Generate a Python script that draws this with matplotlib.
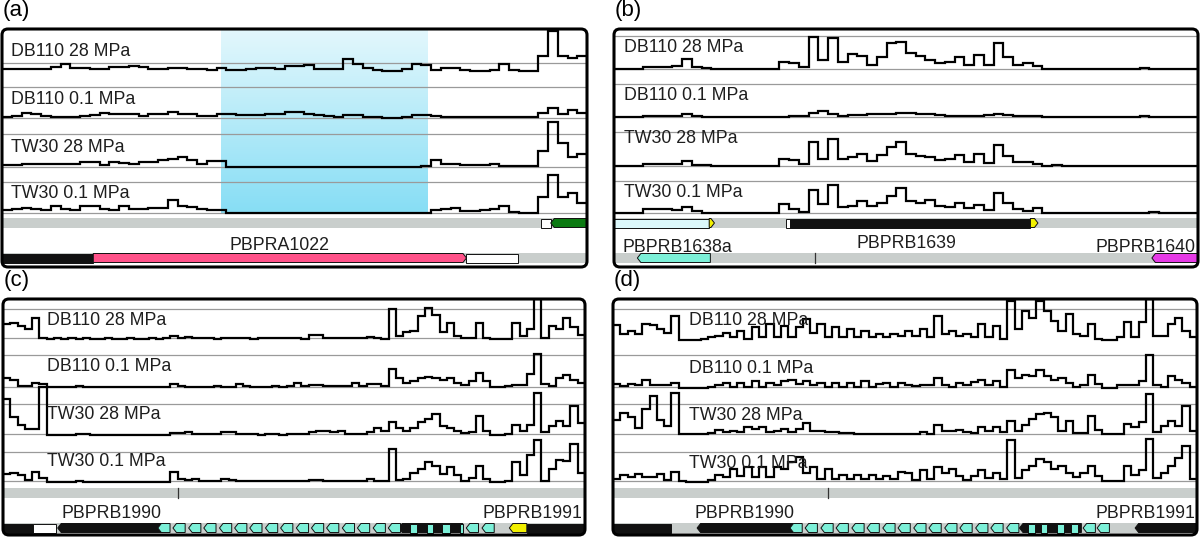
import matplotlib.pyplot as plt
import numpy as np
from matplotlib.patches import FancyBboxPatch, Rectangle, Polygon

plt.rcParams['font.family'] = ['Liberation Sans', 'DejaVu Sans']

W, H = 1200, 537
UNIT = 3.0          # pixels per coverage unit (10 units ~ one track height)

samples = ["DB110 28 MPa", "DB110 0.1 MPa", "TW30 28 MPa", "TW30 0.1 MPa"]

# ---- coverage (arbitrary units, evenly spaced bins) ----
a_db110_28 = [0.8, 0.8, 0.6, 0.8, 0.8, 1.2, 2.2, 1.0, 1.0, 0.6, 0.6, 1.2, 1.3, 1.7, 1.5, 0.6, 0.8, 1.0, 1.0, 0.6,
              0.6, 0.4, 1.1, 0.5, 0.3, 0.6, 1.0, 1.0, 0.8, 1.7, 1.7, 1.9, 0.8, 0.6, 0.8, 3.9, 2.2, 1.0, 0.2, 0.0,
              0.0, 0.6, 2.2, 2.0, 0.5, 1.1, 1.1, 0.2, 0.0, 0.0, 0.5, 2.2, 0.5, 0.0, 0.0, 5.0, 13.3, 5.0, 4.5, 5.0]
a_db110_01 = [0.5, 0.7, 1.7, 1.5, 0.8, 0.5, 0.3, 0.3, 0.7, 1.0, 1.7, 1.5, 1.4, 1.4, 0.6, 1.2, 1.4, 1.9, 1.5, 1.2,
              0.8, 0.6, 1.2, 1.2, 1.1, 1.1, 1.1, 1.2, 1.4, 1.9, 1.9, 1.3, 1.1, 0.7, 0.5, 1.1, 1.0, 0.4, 0.3, 0.0,
              0.0, 0.3, 1.1, 1.1, 0.6, 0.4, 0.3, 0.3, 0.3, 0.3, 0.3, 0.3, 0.3, 0.2, 0.3, 1.7, 3.3, 1.3, 2.8, 1.7]
a_tw30_28 = [0.6, 0.8, 1.1, 1.1, 0.9, 0.9, 0.9, 1.0, 1.7, 1.7, 0.6, 1.7, 1.2, 0.9, 1.7, 1.7, 2.2, 2.8, 3.3, 2.5,
             1.1, 2.0, 2.0, 0, 0, 0, 0, 0, 0, 0, 0, 0, 0, 0, 0, 0, 0, 0, 0, 0,
             0, 0, 0, 0.5, 2.2, 1.1, 1.1, 0.6, 0.6, 0.6, 1.1, 0.3, 0.2, 0.2, 0.3, 5.5, 15, 8.0, 3.3, 4.4]
a_tw30_01 = [0.9, 1.2, 1.7, 1.2, 1.0, 2.2, 1.5, 1.0, 2.4, 2.4, 1.4, 0.9, 2.2, 1.3, 1.3, 1.7, 1.7, 4.4, 2.2, 2.0,
             1.3, 0.9, 0.9, 0, 0, 0, 0, 0, 0, 0, 0, 0, 0, 0, 0, 0, 0, 0, 0, 0,
             0, 0, 0, 0, 1.1, 1.4, 1.7, 0.8, 0.8, 0.9, 1.5, 2.2, 0.5, 0, 0, 5.5, 12.8, 5.5, 6.7, 3.3]

b_db110_28 = [0, 0, 0, 0.8, 0.6, 0.7, 1.0, 3.2, 0.6, 0.2, 0, 0, 0, 0, 0, 0, 0, 2.5, 1.9, 0.8,
              10.8, 3.0, 10.2, 2.4, 5.0, 4.5, 1.5, 4.1, 8.6, 9.1, 5.2, 4.5, 3.0, 1.9, 2.5, 4.1, 1.5, 4.7, 1.5, 8.6,
              4.0, 1.2, 2.0, 1.0, 0, 0, 0, 0, 0, 0, 0, 0, 0, 0, 0.3, 0, 0, 0, 0, 0]
b_db110_01 = [0, 0, 0, 0.4, 0.4, 0.4, 0.5, 1.0, 0.3, 0, 0, 0, 0, 0, 0, 0, 0, 0, 0.4, 0.4,
              1.3, 1.9, 1.0, 0.5, 0.7, 0.7, 1.0, 1.0, 1.1, 1.3, 1.3, 1.1, 1.0, 0.8, 0.5, 0.5, 0.5, 0.4, 0.6, 1.1,
              0.8, 0.3, 0.3, 0.2, 0, 0, 0, 0, 0, 0, 0, 0, 0, 0, 0.2, 0, 0, 0, 0, 0]
b_tw30_28 = [0, 0, 0, 0.8, 0.8, 0.8, 0.8, 1.6, 0.4, 0.2, 0, 0, 0, 0, 0, 0, 0, 2.5, 2.0, 0.8,
             8.0, 2.5, 9.1, 2.5, 3.0, 4.1, 1.8, 3.6, 6.3, 8.0, 4.1, 3.5, 3.0, 1.9, 2.5, 3.6, 1.2, 4.1, 1.0, 6.9,
             3.5, 1.2, 1.5, 0.8, 0, 0.5, 0, 0, 0, 0, 0, 0, 0, 0, 0, 0, 0, 0, 0, 0]
b_tw30_01 = [0, 0, 0, 1.3, 1.3, 1.2, 0.9, 2.0, 0.6, 0, 0, 0, 0, 0, 0, 0, 0, 3.1, 1.5, 0.4,
             7.8, 3.0, 9.4, 2.0, 2.5, 3.9, 2.5, 3.3, 5.6, 8.3, 4.0, 3.3, 4.4, 2.2, 2.0, 3.3, 1.7, 2.8, 1.0, 6.7,
             3.3, 1.3, 0.6, 1.7, 0, 0, 0, 0, 0, 0, 0, 0, 0, 0, 0, 0.3, 0, 0, 0, 0]

c_db110_28 = [5, 5.5, 4.5, 3.5, 7, 0.3, 0, 0.2, 0, 0.2, 0, 0.2, 0, 0, 0.2, 0, 0, 0.2, 0, 0,
              0.2, 0, 0.2, 1, 0.3, 0.6, 0.3, 0.5, 0.2, 0, 0.3, 0.3, 0.2, 0.3, 0, 0.5, 0.3, 0.3, 0.5, 0.3,
              0.4, 0, 1.5, 1.5, 0.3, 0.3, 0.5, 0.3, 0.2, 0.3, 0.6, 0.3, 0, 10, 1, 2.2, 2.8, 7.8, 10.5, 8,
              2.2, 5.5, 1, 0.5, 0.5, 5.5, 0.5, 0, 0, 0, 5.5, 1, 3.3, 16, 0.5, 4.5, 3.3, 7, 4, 1.5]
c_db110_01 = [3, 2.5, 0.5, 0.3, 1.5, 1, 0, 0, 0, 0, 0.3, 0, 0, 0, 0, 0, 0, 0, 0, 0,
              0, 0, 0, 1, 0.3, 0, 0, 0, 0, 0.2, 0, 0, 0.9, 0.5, 0, 0, 0, 0.2, 0, 0.3,
              1.2, 0.3, 0.6, 0.6, 0.2, 0.2, 0.2, 0.3, 1.5, 0.3, 1, 1, 0.2, 5.9, 3, 1.5, 2, 3, 3.5, 3,
              2.5, 3, 1.5, 0.6, 2, 4.8, 2, 0, 0, 0.3, 0.6, 0.6, 4.2, 11, 1, 0.3, 3, 4, 2.5, 1.5]
c_tw30_28 = [12, 6, 3.5, 2, 2, 16, 0, 0, 0, 0, 0.5, 0.3, 0, 0, 0, 0, 0, 0, 0, 0,
             0, 0, 0, 0.7, 0.7, 0.9, 0.5, 0.5, 0.3, 0.5, 1.1, 1, 0.3, 0.3, 0.2, 0, 0.3, 0.3, 0, 0.3,
             0.4, 0.5, 0.9, 1.2, 1.4, 0.9, 1.4, 0.5, 0.5, 0.5, 1, 2.5, 1.4, 4.2, 2.5, 1.4, 2.5, 4.5, 5.3, 7,
             3, 2.5, 1.4, 0.7, 1, 6.4, 1.4, 0, 0, 0.5, 3.3, 1.5, 3.5, 14, 1, 3, 4.8, 3, 9.8, 4]
c_tw30_01 = [2.8, 3, 2.5, 0.6, 3.3, 1.5, 0, 0, 0, 0, 0.2, 0, 0, 0, 0, 0, 0, 0, 0, 0,
             0, 0, 0, 3.3, 1.1, 0.6, 1.1, 0.3, 0.2, 0.2, 0.9, 0.6, 0.2, 0.2, 0.2, 0.2, 0.2, 0.2, 0.3, 0.2,
             0.2, 0.2, 0.6, 0.6, 0.2, 0.2, 0.4, 0.2, 0.2, 0.2, 1.1, 0.3, 0.2, 11, 0.6, 1.1, 3, 4.4, 6.7, 5.5,
             2.8, 5, 2.5, 0.2, 1.5, 5.5, 1, 0, 0, 0.5, 6.7, 2.2, 9, 14, 0.5, 4.4, 7.2, 7, 12.8, 3]

d_db110_28 = [5, 2, 3, 2, 5.5, 5, 3.7, 2.5, 8, 0, 0, 0, 0.2, 0.9, 1.5, 2.5, 1, 3, 0.5, 4.2,
              1, 5.3, 1, 4.8, 1, 4.2, 7, 2.5, 5.3, 0.9, 4.2, 1, 3.7, 0.9, 3, 0.9, 2, 1, 2, 1.5,
              3, 1.5, 3.7, 1, 8, 2, 3, 1.5, 2, 1, 5.3, 1, 4.8, 0.5, 13, 3.7, 9.8, 7.5, 13, 9.8,
              6.4, 3, 8.7, 2, 1.5, 5.3, 0.5, 0, 0, 1, 5.9, 1, 6, 16, 1.5, 1.5, 5.3, 7.5, 3, 1]
d_db110_01 = [1.3, 0.6, 1.3, 1, 2.8, 1, 0.9, 0.9, 1.7, 0, 0, 0, 0, 0.2, 0.9, 1.7, 0.5, 1.7, 0.5, 2.2,
              0.5, 1.7, 0.9, 2.2, 2.8, 1.3, 2.2, 0.9, 1.7, 0.2, 1.7, 0.5, 1.7, 0.5, 2.4, 0.5, 1.3, 1.7, 0.5, 1.7,
              1, 0.6, 1, 1, 3.3, 1, 0.2, 1.7, 1.1, 2, 2.8, 1, 2.2, 0.2, 6, 3.3, 4.4, 3.9, 6, 4,
              2.8, 3.3, 1.7, 0.2, 0.9, 4.4, 1.5, 0, 0, 0.9, 0.9, 0.9, 2.5, 11, 1, 0.5, 3.9, 2.8, 1.7, 0.5]
d_tw30_28 = [5, 7.5, 6, 2.5, 8.7, 13, 5, 3, 14, 0.3, 0.3, 0.3, 0.3, 0.6, 1.8, 0.9, 1.4, 0.9, 2.6, 2,
             2.6, 0.9, 1.4, 2, 1, 2, 4, 1.4, 1.4, 0.9, 0.9, 0.6, 0.6, 0.3, 0.3, 0.5, 0.5, 0.4, 0.3, 0.3,
             0.3, 0.3, 0.9, 0.3, 3.3, 1.4, 1.4, 1.8, 0.9, 0.6, 2.6, 1.4, 2.6, 0.9, 4.8, 1.4, 3.5, 5.3, 7, 7.5,
             5.9, 1.4, 4.8, 0.6, 0.6, 6.4, 1.8, 0.3, 0.3, 0.3, 3.7, 2.6, 4.2, 13.7, 1, 3, 4.8, 3, 9.8, 1.5]
d_tw30_01 = [1.1, 2.2, 1.7, 2.8, 1.7, 1.7, 2.8, 0.6, 3.3, 0.3, 0, 0, 0, 0.6, 2.5, 1.7, 4.4, 2, 5, 1.7,
             5, 1.7, 5, 4.4, 6.7, 8.3, 3, 5, 1.1, 4.4, 1.1, 2.5, 1.1, 2.2, 1.1, 2.2, 1.1, 2, 1.1, 3.3,
             3, 0.6, 3.9, 1, 5, 3, 4.4, 2, 0.6, 2, 3.9, 1.5, 3, 1, 13.9, 1.5, 4, 5.5, 7.8, 6.7,
             4.4, 5.5, 3, 1.7, 3, 5.5, 2, 0.3, 0.2, 0.3, 5.5, 2.5, 4, 14.5, 1.5, 3, 5.5, 8, 12, 1]

# ---- gene annotation: (start %, end %, row, colour, strand) ----
BLACK, WHITE = '#111111', '#ffffff'
GREEN, PINK, AQUA = '#0b7a12', '#ff5289', '#7cf0d8'
LCYAN, YELLOW, MAGENTA = '#dcf8fb', '#f2f000', '#e63ae6'

a_genes = [(92.1, 93.8, 0, WHITE, 0), (93.8, 100, 0, GREEN, -1),
           (0, 15.6, 1, BLACK, 0), (15.6, 79.4, 1, PINK, 1), (79.4, 88.2, 1, WHITE, 0)]
b_genes = [(0, 16.3, 0, LCYAN, 0), (16.3, 17.2, 0, YELLOW, 1), (29.4, 30.2, 0, WHITE, 0),
           (30.2, 71.3, 0, BLACK, 0), (71.3, 72.6, 0, YELLOW, 1),
           (4.0, 16.5, 1, AQUA, -1), (92.1, 100, 1, MAGENTA, -1)]

c_aqua_starts = [26.6, 29.2, 31.9, 34.5, 37.2, 39.8, 42.4, 45.1, 47.7, 50.4, 53.0, 55.6, 58.3, 60.9, 63.6, 66.2,
                 79.6, 82.3]
c_inner_boxes = [(69.9, 71.2), (72.9, 73.9), (75.4, 76.8), (78.5, 79.0)]
c_genes = ([(0, 5.2, 1, BLACK, 0), (5.2, 9.1, 1, WHITE, 0), (9.4, 27.3, 1, BLACK, -1), (68.0, 79.0, 1, BLACK, -1)]
           + [(s, s + 2.1, 1, AQUA, -1) for s in c_aqua_starts]
           + [(s, e, 1, AQUA, 0) for s, e in c_inner_boxes]
           + [(87.0, 90.0, 1, YELLOW, -1), (90.0, 100, 1, BLACK, 0)])

d_aqua_starts = [30.3, 32.9, 35.6, 38.2, 40.9, 43.5, 46.2, 48.8, 51.5, 54.1, 56.8, 59.4, 62.1, 64.7, 67.4,
                 80.5, 82.9]
d_inner_boxes = [(71.1, 72.2), (73.3, 74.4), (76.1, 77.3), (78.4, 79.7)]
d_genes = ([(0, 10.0, 1, BLACK, 0), (14.4, 30.8, 1, BLACK, -1), (69.6, 80.2, 1, BLACK, -1)]
           + [(s, s + 2.1, 1, AQUA, -1) for s in d_aqua_starts]
           + [(s, e, 1, AQUA, 0) for s, e in d_inner_boxes]
           + [(89.4, 100, 1, BLACK, -1)])

# gene names: (x %, baseline px, text, ha)
a_names = [(47.5, 250, "PBPRA1022", 'center')]
b_names = [(1.4, 252, "PBPRB1638a", 'left'), (50.0, 248, "PBPRB1639", 'center'),
           (99.6, 252, "PBPRB1640", 'right')]
c_names = [(10.1, 518, "PBPRB1990", 'left'), (99.6, 518, "PBPRB1991", 'right')]
d_names = [(13.9, 518, "PBPRB1990", 'left'), (99.7, 518, "PBPRB1991", 'right')]

fig = plt.figure(figsize=(12, 5.37), dpi=100)
over = fig.add_axes([0, 0, 1, 1], zorder=10)
over.set_xlim(0, W)
over.set_ylim(H, 0)
over.axis('off')
over.patch.set_visible(False)


def gene_poly(s, e, y0, y1, strand, tip=0.6):
    ym = (y0 + y1) / 2
    if strand < 0:
        return [(s, ym), (s + tip, y0), (e, y0), (e, y1), (s + tip, y1)]
    if strand > 0:
        return [(s, y0), (e - tip, y0), (e, ym), (e - tip, y1), (s, y1)]
    return [(s, y0), (e, y0), (e, y1), (s, y1)]


def draw_panel(box, letter, tracks, lines, bases, lab_x, lab_y, rows, genes, ticks, names, shade=None):
    l, t, r, b = box
    ax = fig.add_axes([l / W, 1 - b / H, (r - l) / W, (b - t) / H])
    if shade is not None:
        top_c = np.array([0.89, 0.97, 0.99])
        bot_c = np.array([0.53, 0.87, 0.96])
        frac = np.linspace(0, 1, 64)[:, None, None]
        grad = top_c + frac * (bot_c - top_c)
        ax.imshow(grad, extent=(shade[0], shade[1], bases[-1], t), origin='upper',
                  aspect='auto', interpolation='bilinear', zorder=0)
    ax.set_xlim(0, 100)
    ax.set_ylim(b, t)
    ax.axis('off')
    for y in lines:
        ax.axhline(y, color='#9a9a9a', lw=0.9, zorder=1)
    for i, vals in enumerate(tracks):
        v = np.asarray(vals, dtype=float)
        room = bases[i] - (bases[i - 1] if i else t)
        y = bases[i] - np.minimum(v * UNIT, room)
        ax.stairs(y, np.linspace(0, 100, len(v) + 1), baseline=None,
                  color='black', lw=1.6, zorder=3)
        ax.text(lab_x, lab_y[i], samples[i], fontsize=12.8, color='#1e1e1e',
                va='baseline', ha='left', zorder=4)
    for y0, y1 in rows:
        ax.add_patch(Rectangle((0, y0), 100, y1 - y0, fc='#c9cecc', ec='none', zorder=2))
    for s, e, row, col, strand in genes:
        y0, y1 = rows[row]
        ec = '#111111' if col != BLACK else BLACK
        ax.add_patch(Polygon(gene_poly(s, e, y0 + 0.5, y1 - 0.5, strand), closed=True,
                             fc=col, ec=ec, lw=0.7, zorder=3))
    for x, row in ticks:
        y0, y1 = rows[row]
        ax.plot([x, x], [y0, y1], color='#333333', lw=0.9, zorder=4)
    for x, y, txt, ha in names:
        ax.text(x, y, txt, fontsize=12.8, color='#1e1e1e', ha=ha, va='baseline', zorder=4)
    over.add_patch(FancyBboxPatch((l, t), r - l, b - t,
                                  boxstyle="round,pad=0,rounding_size=6",
                                  fc='none', ec='black', lw=2.2))
    over.text(l + 1, t - 29, letter, fontsize=16, va='top', ha='left')


draw_panel((2, 29, 587, 267), "(a)",
           [a_db110_28, a_db110_01, a_tw30_28, a_tw30_01],
           [63, 87, 118, 134, 167, 182, 213], [71, 118, 167, 213],
           1.5, [56, 104, 152, 198],
           [(218, 228), (253, 263)], a_genes, [], a_names, shade=(37.4, 72.7))

draw_panel((614, 29, 1198, 267), "(b)",
           [b_db110_28, b_db110_01, b_tw30_28, b_tw30_01],
           [36, 69, 84, 117, 132, 166, 181, 213], [69, 117, 166, 213],
           1.7, [52, 100, 143, 197],
           [(218, 228), (253, 263)], b_genes, [(34.4, 1)], b_names)

draw_panel((3, 299, 585, 535), "(c)",
           [c_db110_28, c_db110_01, c_tw30_28, c_tw30_01],
           [309, 338, 355, 387, 404, 434, 452, 481], [339, 387, 435, 482],
           7.6, [325, 371, 419, 466],
           [(488, 498), (523, 533)], c_genes, [(30.1, 0)], c_names)

draw_panel((613, 299, 1197, 535), "(d)",
           [d_db110_28, d_db110_01, d_tw30_28, d_tw30_01],
           [309, 355, 387, 404, 434, 452, 481], [340, 388, 435, 482],
           13.0, [325, 373, 420, 468],
           [(488, 498), (523, 533)], d_genes, [(36.8, 0)], d_names)

fig.savefig('out.png', dpi=100)
